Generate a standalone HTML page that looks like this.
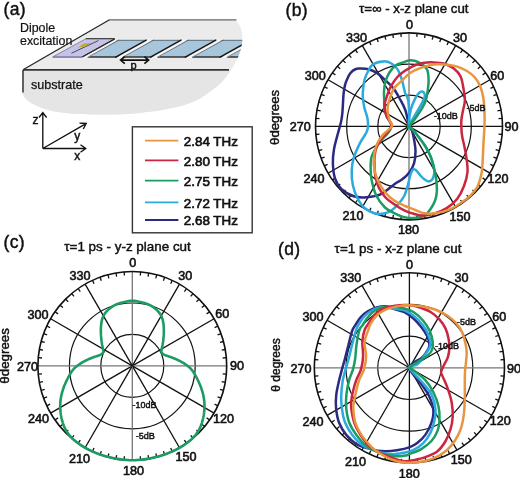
<!DOCTYPE html>
<html><head><meta charset="utf-8"><style>
html,body{margin:0;padding:0;background:#fff;}
svg{display:block;font-family:"Liberation Sans", sans-serif;will-change:transform;}
text{stroke:#111;stroke-width:0.45px;}
</style></head><body>
<svg width="520" height="478" viewBox="0 0 520 478" font-family='&quot;Liberation Sans&quot;, sans-serif' fill="#111">
<path d="M110,20 L235.8,20.0 C236.5,21.1 239.0,24.2 240.0,26.3 C241.0,28.4 241.6,30.2 242.0,32.6 C242.4,35.0 242.5,37.8 242.2,40.9 C241.9,44.0 241.3,47.9 240.2,51.4 C239.1,54.9 237.6,58.3 235.8,61.8 C234.0,65.3 231.9,68.8 229.5,72.3 C227.1,75.8 224.2,79.7 221.1,82.8 C218.0,85.9 214.5,88.3 210.7,91.1 C206.9,93.9 203.0,97.0 198.1,99.5 C193.2,102.0 187.3,104.0 181.4,105.8 C175.5,107.5 168.0,109.0 162.6,110.0 C157.2,111.0 155.0,111.1 149.2,111.8 C143.4,112.5 135.8,113.5 127.7,113.9 C119.6,114.4 109.8,114.5 100.8,114.5 C91.8,114.5 81.9,114.3 73.8,113.7 C65.7,113.1 58.6,112.3 52.3,111.0 C46.0,109.7 40.6,107.6 36.2,105.6 C31.8,103.6 28.3,101.1 26.0,99.0 C23.7,96.9 23.1,94.0 22.5,93.0 L22.5,70 Z" fill="#ebebeb"/>
<path d="M22.5,70 L230.5,70 L229.5,72.3 C228.1,74.0 224.2,79.7 221.1,82.8 C218.0,85.9 214.5,88.3 210.7,91.1 C206.9,93.9 203.0,97.0 198.1,99.5 C193.2,102.0 187.3,104.0 181.4,105.8 C175.5,107.5 168.0,109.0 162.6,110.0 C157.2,111.0 155.0,111.1 149.2,111.8 C143.4,112.5 135.8,113.5 127.7,113.9 C119.6,114.4 109.8,114.5 100.8,114.5 C91.8,114.5 81.9,114.3 73.8,113.7 C65.7,113.1 58.6,112.3 52.3,111.0 C46.0,109.7 40.6,107.6 36.2,105.6 C31.8,103.6 28.3,101.1 26.0,99.0 C23.7,96.9 23.1,94.0 22.5,93.0 Z" fill="#e5e5e6"/>
<path d="M109.3,19.8 L236.5,19.8" stroke="#666" stroke-width="1.3" fill="none"/>
<path d="M109.5,19.8 L23,69.8" stroke="#262626" stroke-width="1.3" fill="none"/>
<path d="M23,69.8 L229,69.8" stroke="#333" stroke-width="1.7" fill="none"/>
<path d="M23,70 L23,92.5" stroke="#333" stroke-width="1.5" fill="none"/>
<clipPath id="gclip"><path d="M110,20 L235.8,20.0 C236.5,21.1 239.0,24.2 240.0,26.3 C241.0,28.4 241.6,30.2 242.0,32.6 C242.4,35.0 242.5,37.8 242.2,40.9 C241.9,44.0 241.3,47.9 240.2,51.4 C239.1,54.9 237.6,58.3 235.8,61.8 C234.0,65.3 231.9,68.8 229.5,72.3 C227.1,75.8 224.2,79.7 221.1,82.8 C218.0,85.9 214.5,88.3 210.7,91.1 C206.9,93.9 203.0,97.0 198.1,99.5 C193.2,102.0 187.3,104.0 181.4,105.8 C175.5,107.5 168.0,109.0 162.6,110.0 C157.2,111.0 155.0,111.1 149.2,111.8 C143.4,112.5 135.8,113.5 127.7,113.9 C119.6,114.4 109.8,114.5 100.8,114.5 C91.8,114.5 81.9,114.3 73.8,113.7 C65.7,113.1 58.6,112.3 52.3,111.0 C46.0,109.7 40.6,107.6 36.2,105.6 C31.8,103.6 28.3,101.1 26.0,99.0 C23.7,96.9 23.1,94.0 22.5,93.0 L22.5,70 Z"/></clipPath>
<g clip-path="url(#gclip)">
<path d="M116,40 L250,40 L250,57 L84,57 Z" fill="#a8c6db"/>
<path d="M116,40.3 L250,40.3" stroke="#5d6d7a" stroke-width="1"/>
<path d="M86,57 L250,57" stroke="#333" stroke-width="1.5"/>
<path d="M112.7,39.3 L118.7,39.3 L87.2,58 L81.2,58 Z" fill="#f7f7f7"/>
<path d="M111.9,39.8 L80.4,57.4" stroke="#161616" stroke-width="1.5"/>
<path d="M119.1,40 L87.6,57.3" stroke="#55606a" stroke-width="0.8"/>
<path d="M147.5,39.3 L153.5,39.3 L122.0,58 L116.0,58 Z" fill="#f7f7f7"/>
<path d="M146.7,39.8 L115.2,57.4" stroke="#161616" stroke-width="1.5"/>
<path d="M153.9,40 L122.4,57.3" stroke="#55606a" stroke-width="0.8"/>
<path d="M182.3,39.3 L188.3,39.3 L156.8,58 L150.8,58 Z" fill="#f7f7f7"/>
<path d="M181.5,39.8 L150.0,57.4" stroke="#161616" stroke-width="1.5"/>
<path d="M188.7,40 L157.2,57.3" stroke="#55606a" stroke-width="0.8"/>
<path d="M217.1,39.3 L223.1,39.3 L191.6,58 L185.6,58 Z" fill="#f7f7f7"/>
<path d="M216.3,39.8 L184.8,57.4" stroke="#161616" stroke-width="1.5"/>
<path d="M223.5,40 L192.0,57.3" stroke="#55606a" stroke-width="0.8"/>
<path d="M251.9,39.3 L257.9,39.3 L226.4,58 L220.4,58 Z" fill="#f7f7f7"/>
<path d="M251.1,39.8 L219.6,57.4" stroke="#161616" stroke-width="1.5"/>
<path d="M258.3,40 L226.8,57.3" stroke="#55606a" stroke-width="0.8"/>
<path d="M286.7,39.3 L292.7,39.3 L261.2,58 L255.2,58 Z" fill="#f7f7f7"/>
<path d="M285.9,39.8 L254.4,57.4" stroke="#161616" stroke-width="1.5"/>
<path d="M293.1,40 L261.6,57.3" stroke="#55606a" stroke-width="0.8"/>
</g>
<path d="M85.7,38.7 L114.6,38.7 L82.5,56.2 L52.7,56.2 Z" fill="#c6c3e8"/>
<path d="M52.7,56 L82.6,56 L82,58 L52.7,58 Z" fill="#8e8cb6"/>
<path d="M85.7,38.7 L114.6,38.7" stroke="#2a2a2a" stroke-width="1.1" fill="none"/>
<path d="M114.8,38.9 L82.3,57" stroke="#2a2a2a" stroke-width="1.4" fill="none"/>
<path d="M85.7,38.9 L52.7,57" stroke="#77779a" stroke-width="0.8" fill="none"/>
<path d="M71.5,53.2 L98.5,40.5" stroke="#4a4a55" stroke-width="1" fill="none"/>
<path d="M77.5,47.8 L83,43.8 L91,42.5 L86,46.3 Z" fill="#c2ac2e"/>
<path d="M120.5,60.1 L148.7,60.1 M124.8,56.6 L120.6,60.1 L124.8,63.6 M144.4,56.6 L148.6,60.1 L144.4,63.6" stroke="#111" stroke-width="1.7" fill="none"/>
<text x="133.5" y="68.5" text-anchor="middle" font-size="11">p</text>
<text x="3.6" y="15.2" font-size="17.5" letter-spacing="0.3">(a)</text>
<text x="20" y="32.4" font-size="12.4" style="stroke-width:0.2px">Dipole</text>
<text x="20" y="44.6" font-size="12.4" style="stroke-width:0.2px">excitation</text>
<text x="31" y="88.5" font-size="12.6" style="stroke-width:0.25px">substrate</text>
<path d="M42.8,148.5 L42.8,113 M39,117.5 L42.8,112.5 L46.6,117.5 M42.8,148.5 L85.4,148.5 M80.5,144.7 L85.8,148.5 L80.5,152.3 M42.8,148.5 L86,123.7 M79.5,123.2 L86.2,123.5 L83.3,129" stroke="#111" stroke-width="1.35" fill="none"/>
<text x="32.5" y="124" font-size="12">z</text>
<text x="74.3" y="140" font-size="12">y</text>
<text x="74.3" y="159.5" font-size="12">x</text>
<rect x="132.4" y="126.8" width="119.8" height="106" fill="#fff" stroke="#333" stroke-width="1.4"/>
<line x1="145" y1="140.7" x2="178.4" y2="140.7" stroke="#e9953f" stroke-width="1.8"/>
<text x="183.8" y="146.0" font-size="13.4" style="stroke-width:0.65px">2.84 THz</text>
<line x1="145" y1="160.3" x2="178.4" y2="160.3" stroke="#cc2540" stroke-width="1.8"/>
<text x="183.8" y="165.6" font-size="13.4" style="stroke-width:0.65px">2.80 THz</text>
<line x1="145" y1="180.7" x2="178.4" y2="180.7" stroke="#1b9c62" stroke-width="1.8"/>
<text x="183.8" y="186.0" font-size="13.4" style="stroke-width:0.65px">2.75 THz</text>
<line x1="145" y1="202.4" x2="178.4" y2="202.4" stroke="#2aaade" stroke-width="1.8"/>
<text x="183.8" y="207.7" font-size="13.4" style="stroke-width:0.65px">2.72 THz</text>
<line x1="145" y1="220.0" x2="178.4" y2="220.0" stroke="#2c2a80" stroke-width="1.8"/>
<text x="183.8" y="225.3" font-size="13.4" style="stroke-width:0.65px">2.68 THz</text>
<circle cx="409.0" cy="126.4" r="31.2" fill="none" stroke="#111" stroke-width="1.2"/>
<circle cx="409.0" cy="126.4" r="62.3" fill="none" stroke="#111" stroke-width="1.2"/>
<line x1="409.0" y1="126.4" x2="409.0" y2="32.9" stroke="#777" stroke-width="1.3"/>
<line x1="409.0" y1="126.4" x2="455.8" y2="45.4" stroke="#111" stroke-width="1.3"/>
<line x1="409.0" y1="126.4" x2="490.0" y2="79.7" stroke="#111" stroke-width="1.3"/>
<line x1="409.0" y1="126.4" x2="502.5" y2="126.4" stroke="#111" stroke-width="1.3"/>
<line x1="409.0" y1="126.4" x2="490.0" y2="173.1" stroke="#111" stroke-width="1.3"/>
<line x1="409.0" y1="126.4" x2="455.8" y2="207.4" stroke="#111" stroke-width="1.3"/>
<line x1="409.0" y1="126.4" x2="409.0" y2="219.9" stroke="#777" stroke-width="1.3"/>
<line x1="409.0" y1="126.4" x2="362.2" y2="207.4" stroke="#111" stroke-width="1.3"/>
<line x1="409.0" y1="126.4" x2="328.0" y2="173.2" stroke="#111" stroke-width="1.3"/>
<line x1="409.0" y1="126.4" x2="315.5" y2="126.4" stroke="#111" stroke-width="1.3"/>
<line x1="409.0" y1="126.4" x2="328.0" y2="79.7" stroke="#111" stroke-width="1.3"/>
<line x1="409.0" y1="126.4" x2="362.2" y2="45.4" stroke="#111" stroke-width="1.3"/>
<line x1="417.1" y1="33.3" x2="416.8" y2="36.9" stroke="#111" stroke-width="1.3"/>
<line x1="425.2" y1="34.3" x2="424.6" y2="38.0" stroke="#111" stroke-width="1.3"/>
<line x1="433.2" y1="36.1" x2="432.2" y2="39.7" stroke="#111" stroke-width="1.3"/>
<line x1="441.0" y1="38.5" x2="439.7" y2="42.0" stroke="#111" stroke-width="1.3"/>
<line x1="448.5" y1="41.7" x2="447.0" y2="45.0" stroke="#111" stroke-width="1.3"/>
<line x1="462.6" y1="49.8" x2="460.5" y2="52.8" stroke="#111" stroke-width="1.3"/>
<line x1="469.1" y1="54.8" x2="466.7" y2="57.6" stroke="#111" stroke-width="1.3"/>
<line x1="475.1" y1="60.3" x2="472.5" y2="62.9" stroke="#111" stroke-width="1.3"/>
<line x1="480.6" y1="66.3" x2="477.8" y2="68.7" stroke="#111" stroke-width="1.3"/>
<line x1="485.6" y1="72.8" x2="482.6" y2="74.9" stroke="#111" stroke-width="1.3"/>
<line x1="493.7" y1="86.9" x2="490.4" y2="88.4" stroke="#111" stroke-width="1.3"/>
<line x1="496.9" y1="94.4" x2="493.4" y2="95.7" stroke="#111" stroke-width="1.3"/>
<line x1="499.3" y1="102.2" x2="495.7" y2="103.2" stroke="#111" stroke-width="1.3"/>
<line x1="501.1" y1="110.2" x2="497.4" y2="110.8" stroke="#111" stroke-width="1.3"/>
<line x1="502.1" y1="118.3" x2="498.5" y2="118.6" stroke="#111" stroke-width="1.3"/>
<line x1="502.1" y1="134.5" x2="498.5" y2="134.2" stroke="#111" stroke-width="1.3"/>
<line x1="501.1" y1="142.6" x2="497.4" y2="142.0" stroke="#111" stroke-width="1.3"/>
<line x1="499.3" y1="150.6" x2="495.7" y2="149.6" stroke="#111" stroke-width="1.3"/>
<line x1="496.9" y1="158.4" x2="493.4" y2="157.1" stroke="#111" stroke-width="1.3"/>
<line x1="493.7" y1="165.9" x2="490.4" y2="164.4" stroke="#111" stroke-width="1.3"/>
<line x1="485.6" y1="180.0" x2="482.6" y2="177.9" stroke="#111" stroke-width="1.3"/>
<line x1="480.6" y1="186.5" x2="477.8" y2="184.1" stroke="#111" stroke-width="1.3"/>
<line x1="475.1" y1="192.5" x2="472.5" y2="189.9" stroke="#111" stroke-width="1.3"/>
<line x1="469.1" y1="198.0" x2="466.7" y2="195.2" stroke="#111" stroke-width="1.3"/>
<line x1="462.6" y1="203.0" x2="460.5" y2="200.0" stroke="#111" stroke-width="1.3"/>
<line x1="448.5" y1="211.1" x2="447.0" y2="207.8" stroke="#111" stroke-width="1.3"/>
<line x1="441.0" y1="214.3" x2="439.7" y2="210.8" stroke="#111" stroke-width="1.3"/>
<line x1="433.2" y1="216.7" x2="432.2" y2="213.1" stroke="#111" stroke-width="1.3"/>
<line x1="425.2" y1="218.5" x2="424.6" y2="214.8" stroke="#111" stroke-width="1.3"/>
<line x1="417.1" y1="219.5" x2="416.8" y2="215.9" stroke="#111" stroke-width="1.3"/>
<line x1="400.9" y1="219.5" x2="401.2" y2="215.9" stroke="#111" stroke-width="1.3"/>
<line x1="392.8" y1="218.5" x2="393.4" y2="214.8" stroke="#111" stroke-width="1.3"/>
<line x1="384.8" y1="216.7" x2="385.8" y2="213.1" stroke="#111" stroke-width="1.3"/>
<line x1="377.0" y1="214.3" x2="378.3" y2="210.8" stroke="#111" stroke-width="1.3"/>
<line x1="369.5" y1="211.1" x2="371.0" y2="207.8" stroke="#111" stroke-width="1.3"/>
<line x1="355.4" y1="203.0" x2="357.5" y2="200.0" stroke="#111" stroke-width="1.3"/>
<line x1="348.9" y1="198.0" x2="351.3" y2="195.2" stroke="#111" stroke-width="1.3"/>
<line x1="342.9" y1="192.5" x2="345.5" y2="189.9" stroke="#111" stroke-width="1.3"/>
<line x1="337.4" y1="186.5" x2="340.2" y2="184.1" stroke="#111" stroke-width="1.3"/>
<line x1="332.4" y1="180.0" x2="335.4" y2="177.9" stroke="#111" stroke-width="1.3"/>
<line x1="324.3" y1="165.9" x2="327.6" y2="164.4" stroke="#111" stroke-width="1.3"/>
<line x1="321.1" y1="158.4" x2="324.6" y2="157.1" stroke="#111" stroke-width="1.3"/>
<line x1="318.7" y1="150.6" x2="322.3" y2="149.6" stroke="#111" stroke-width="1.3"/>
<line x1="316.9" y1="142.6" x2="320.6" y2="142.0" stroke="#111" stroke-width="1.3"/>
<line x1="315.9" y1="134.5" x2="319.5" y2="134.2" stroke="#111" stroke-width="1.3"/>
<line x1="315.9" y1="118.3" x2="319.5" y2="118.6" stroke="#111" stroke-width="1.3"/>
<line x1="316.9" y1="110.2" x2="320.6" y2="110.8" stroke="#111" stroke-width="1.3"/>
<line x1="318.7" y1="102.2" x2="322.3" y2="103.2" stroke="#111" stroke-width="1.3"/>
<line x1="321.1" y1="94.4" x2="324.6" y2="95.7" stroke="#111" stroke-width="1.3"/>
<line x1="324.3" y1="86.9" x2="327.6" y2="88.4" stroke="#111" stroke-width="1.3"/>
<line x1="332.4" y1="72.8" x2="335.4" y2="74.9" stroke="#111" stroke-width="1.3"/>
<line x1="337.4" y1="66.3" x2="340.2" y2="68.7" stroke="#111" stroke-width="1.3"/>
<line x1="342.9" y1="60.3" x2="345.5" y2="62.9" stroke="#111" stroke-width="1.3"/>
<line x1="348.9" y1="54.8" x2="351.3" y2="57.6" stroke="#111" stroke-width="1.3"/>
<line x1="355.4" y1="49.8" x2="357.5" y2="52.8" stroke="#111" stroke-width="1.3"/>
<line x1="369.5" y1="41.7" x2="371.0" y2="45.0" stroke="#111" stroke-width="1.3"/>
<line x1="377.0" y1="38.5" x2="378.3" y2="42.0" stroke="#111" stroke-width="1.3"/>
<line x1="384.8" y1="36.1" x2="385.8" y2="39.7" stroke="#111" stroke-width="1.3"/>
<line x1="392.8" y1="34.3" x2="393.4" y2="38.0" stroke="#111" stroke-width="1.3"/>
<line x1="400.9" y1="33.3" x2="401.2" y2="36.9" stroke="#111" stroke-width="1.3"/>
<circle cx="409.0" cy="126.4" r="93.5" fill="none" stroke="#111" stroke-width="1.6"/>
<text x="409.6" y="29.1" text-anchor="middle" font-size="12.6" style="stroke-width:0.6px">0</text>
<text x="460.0" y="42.3" text-anchor="middle" font-size="12.6" style="stroke-width:0.6px">30</text>
<text x="497.3" y="80.1" text-anchor="middle" font-size="12.6" style="stroke-width:0.6px">60</text>
<text x="511.6" y="131.4" text-anchor="middle" font-size="12.6" style="stroke-width:0.6px">90</text>
<text x="498.1" y="182.8" text-anchor="middle" font-size="12.6" style="stroke-width:0.6px">120</text>
<text x="460.1" y="220.6" text-anchor="middle" font-size="12.6" style="stroke-width:0.6px">150</text>
<text x="408.5" y="234.2" text-anchor="middle" font-size="12.6" style="stroke-width:0.6px">180</text>
<text x="352.9" y="220.3" text-anchor="middle" font-size="12.6" style="stroke-width:0.6px">210</text>
<text x="314.0" y="183.0" text-anchor="middle" font-size="12.6" style="stroke-width:0.6px">240</text>
<text x="300.2" y="131.0" text-anchor="middle" font-size="12.6" style="stroke-width:0.6px">270</text>
<text x="315.2" y="79.7" text-anchor="middle" font-size="12.6" style="stroke-width:0.6px">300</text>
<text x="356.6" y="42.1" text-anchor="middle" font-size="12.6" style="stroke-width:0.6px">330</text>
<text x="285.5" y="16" font-size="17.5" letter-spacing="0.3">(b)</text>
<text x="359" y="13.4" font-size="13.3" textLength="109.5" lengthAdjust="spacingAndGlyphs">τ=∞ - x-z plane cut</text>
<text x="278.9" y="117.4" font-size="12.8" text-anchor="middle" textLength="55" lengthAdjust="spacingAndGlyphs" transform="rotate(-90 278.9 117.4)">θdegrees</text>
<circle cx="132.3" cy="365.9" r="31.5" fill="none" stroke="#111" stroke-width="1.2"/>
<circle cx="132.3" cy="365.9" r="62.9" fill="none" stroke="#111" stroke-width="1.2"/>
<line x1="132.3" y1="365.9" x2="132.3" y2="271.5" stroke="#777" stroke-width="1.3"/>
<line x1="132.3" y1="365.9" x2="179.5" y2="284.1" stroke="#111" stroke-width="1.3"/>
<line x1="132.3" y1="365.9" x2="214.1" y2="318.7" stroke="#111" stroke-width="1.3"/>
<line x1="132.3" y1="365.9" x2="226.8" y2="365.9" stroke="#777" stroke-width="1.3"/>
<line x1="132.3" y1="365.9" x2="214.1" y2="413.1" stroke="#111" stroke-width="1.3"/>
<line x1="132.3" y1="365.9" x2="179.5" y2="447.7" stroke="#111" stroke-width="1.3"/>
<line x1="132.3" y1="365.9" x2="132.3" y2="460.3" stroke="#777" stroke-width="1.3"/>
<line x1="132.3" y1="365.9" x2="85.1" y2="447.7" stroke="#111" stroke-width="1.3"/>
<line x1="132.3" y1="365.9" x2="50.6" y2="413.1" stroke="#111" stroke-width="1.3"/>
<line x1="132.3" y1="365.9" x2="37.9" y2="365.9" stroke="#777" stroke-width="1.3"/>
<line x1="132.3" y1="365.9" x2="50.6" y2="318.7" stroke="#111" stroke-width="1.3"/>
<line x1="132.3" y1="365.9" x2="85.1" y2="284.1" stroke="#111" stroke-width="1.3"/>
<line x1="140.6" y1="271.9" x2="140.3" y2="275.5" stroke="#111" stroke-width="1.3"/>
<line x1="148.7" y1="272.9" x2="148.1" y2="276.6" stroke="#111" stroke-width="1.3"/>
<line x1="156.8" y1="274.7" x2="155.8" y2="278.3" stroke="#111" stroke-width="1.3"/>
<line x1="164.6" y1="277.2" x2="163.4" y2="280.7" stroke="#111" stroke-width="1.3"/>
<line x1="172.2" y1="280.3" x2="170.7" y2="283.7" stroke="#111" stroke-width="1.3"/>
<line x1="186.5" y1="288.6" x2="184.4" y2="291.6" stroke="#111" stroke-width="1.3"/>
<line x1="193.0" y1="293.6" x2="190.7" y2="296.4" stroke="#111" stroke-width="1.3"/>
<line x1="199.1" y1="299.1" x2="196.5" y2="301.8" stroke="#111" stroke-width="1.3"/>
<line x1="204.7" y1="305.2" x2="201.8" y2="307.6" stroke="#111" stroke-width="1.3"/>
<line x1="209.7" y1="311.8" x2="206.6" y2="313.9" stroke="#111" stroke-width="1.3"/>
<line x1="217.9" y1="326.0" x2="214.6" y2="327.6" stroke="#111" stroke-width="1.3"/>
<line x1="221.1" y1="333.6" x2="217.6" y2="334.9" stroke="#111" stroke-width="1.3"/>
<line x1="223.5" y1="341.5" x2="220.0" y2="342.4" stroke="#111" stroke-width="1.3"/>
<line x1="225.3" y1="349.5" x2="221.7" y2="350.2" stroke="#111" stroke-width="1.3"/>
<line x1="226.4" y1="357.7" x2="222.7" y2="358.0" stroke="#111" stroke-width="1.3"/>
<line x1="226.4" y1="374.1" x2="222.7" y2="373.8" stroke="#111" stroke-width="1.3"/>
<line x1="225.3" y1="382.3" x2="221.7" y2="381.6" stroke="#111" stroke-width="1.3"/>
<line x1="223.5" y1="390.3" x2="220.0" y2="389.4" stroke="#111" stroke-width="1.3"/>
<line x1="221.1" y1="398.2" x2="217.6" y2="396.9" stroke="#111" stroke-width="1.3"/>
<line x1="217.9" y1="405.8" x2="214.6" y2="404.2" stroke="#111" stroke-width="1.3"/>
<line x1="209.7" y1="420.0" x2="206.6" y2="417.9" stroke="#111" stroke-width="1.3"/>
<line x1="204.7" y1="426.6" x2="201.8" y2="424.2" stroke="#111" stroke-width="1.3"/>
<line x1="199.1" y1="432.7" x2="196.5" y2="430.0" stroke="#111" stroke-width="1.3"/>
<line x1="193.0" y1="438.2" x2="190.7" y2="435.4" stroke="#111" stroke-width="1.3"/>
<line x1="186.5" y1="443.2" x2="184.4" y2="440.2" stroke="#111" stroke-width="1.3"/>
<line x1="172.2" y1="451.5" x2="170.7" y2="448.1" stroke="#111" stroke-width="1.3"/>
<line x1="164.6" y1="454.6" x2="163.4" y2="451.1" stroke="#111" stroke-width="1.3"/>
<line x1="156.8" y1="457.1" x2="155.8" y2="453.5" stroke="#111" stroke-width="1.3"/>
<line x1="148.7" y1="458.9" x2="148.1" y2="455.2" stroke="#111" stroke-width="1.3"/>
<line x1="140.6" y1="459.9" x2="140.3" y2="456.3" stroke="#111" stroke-width="1.3"/>
<line x1="124.1" y1="459.9" x2="124.4" y2="456.3" stroke="#111" stroke-width="1.3"/>
<line x1="116.0" y1="458.9" x2="116.6" y2="455.2" stroke="#111" stroke-width="1.3"/>
<line x1="107.9" y1="457.1" x2="108.9" y2="453.5" stroke="#111" stroke-width="1.3"/>
<line x1="100.1" y1="454.6" x2="101.3" y2="451.1" stroke="#111" stroke-width="1.3"/>
<line x1="92.5" y1="451.5" x2="94.0" y2="448.1" stroke="#111" stroke-width="1.3"/>
<line x1="78.2" y1="443.2" x2="80.3" y2="440.2" stroke="#111" stroke-width="1.3"/>
<line x1="71.7" y1="438.2" x2="74.0" y2="435.4" stroke="#111" stroke-width="1.3"/>
<line x1="65.6" y1="432.7" x2="68.2" y2="430.0" stroke="#111" stroke-width="1.3"/>
<line x1="60.0" y1="426.6" x2="62.9" y2="424.2" stroke="#111" stroke-width="1.3"/>
<line x1="55.0" y1="420.0" x2="58.1" y2="417.9" stroke="#111" stroke-width="1.3"/>
<line x1="46.8" y1="405.8" x2="50.1" y2="404.2" stroke="#111" stroke-width="1.3"/>
<line x1="43.6" y1="398.2" x2="47.1" y2="396.9" stroke="#111" stroke-width="1.3"/>
<line x1="41.2" y1="390.3" x2="44.7" y2="389.4" stroke="#111" stroke-width="1.3"/>
<line x1="39.4" y1="382.3" x2="43.0" y2="381.6" stroke="#111" stroke-width="1.3"/>
<line x1="38.3" y1="374.1" x2="42.0" y2="373.8" stroke="#111" stroke-width="1.3"/>
<line x1="38.3" y1="357.7" x2="42.0" y2="358.0" stroke="#111" stroke-width="1.3"/>
<line x1="39.4" y1="349.5" x2="43.0" y2="350.2" stroke="#111" stroke-width="1.3"/>
<line x1="41.2" y1="341.5" x2="44.7" y2="342.4" stroke="#111" stroke-width="1.3"/>
<line x1="43.6" y1="333.6" x2="47.1" y2="334.9" stroke="#111" stroke-width="1.3"/>
<line x1="46.8" y1="326.0" x2="50.1" y2="327.6" stroke="#111" stroke-width="1.3"/>
<line x1="55.0" y1="311.8" x2="58.1" y2="313.9" stroke="#111" stroke-width="1.3"/>
<line x1="60.0" y1="305.2" x2="62.9" y2="307.6" stroke="#111" stroke-width="1.3"/>
<line x1="65.6" y1="299.1" x2="68.2" y2="301.8" stroke="#111" stroke-width="1.3"/>
<line x1="71.7" y1="293.6" x2="74.0" y2="296.4" stroke="#111" stroke-width="1.3"/>
<line x1="78.2" y1="288.6" x2="80.3" y2="291.6" stroke="#111" stroke-width="1.3"/>
<line x1="92.5" y1="280.3" x2="94.0" y2="283.7" stroke="#111" stroke-width="1.3"/>
<line x1="100.1" y1="277.2" x2="101.3" y2="280.7" stroke="#111" stroke-width="1.3"/>
<line x1="107.9" y1="274.7" x2="108.9" y2="278.3" stroke="#111" stroke-width="1.3"/>
<line x1="116.0" y1="272.9" x2="116.6" y2="276.6" stroke="#111" stroke-width="1.3"/>
<line x1="124.1" y1="271.9" x2="124.4" y2="275.5" stroke="#111" stroke-width="1.3"/>
<circle cx="132.3" cy="365.9" r="94.4" fill="none" stroke="#111" stroke-width="1.6"/>
<text x="132.7" y="266.9" text-anchor="middle" font-size="12.6" style="stroke-width:0.6px">0</text>
<text x="185.2" y="280.4" text-anchor="middle" font-size="12.6" style="stroke-width:0.6px">30</text>
<text x="222.3" y="318.3" text-anchor="middle" font-size="12.6" style="stroke-width:0.6px">60</text>
<text x="237.0" y="370.3" text-anchor="middle" font-size="12.6" style="stroke-width:0.6px">90</text>
<text x="223.5" y="422.7" text-anchor="middle" font-size="12.6" style="stroke-width:0.6px">120</text>
<text x="185.9" y="460.7" text-anchor="middle" font-size="12.6" style="stroke-width:0.6px">150</text>
<text x="133.4" y="474.6" text-anchor="middle" font-size="12.6" style="stroke-width:0.6px">180</text>
<text x="79.5" y="462.9" text-anchor="middle" font-size="12.6" style="stroke-width:0.6px">210</text>
<text x="38.4" y="423.3" text-anchor="middle" font-size="12.6" style="stroke-width:0.6px">240</text>
<text x="27.5" y="371.0" text-anchor="middle" font-size="12.6" style="stroke-width:0.6px">270</text>
<text x="38.1" y="318.8" text-anchor="middle" font-size="12.6" style="stroke-width:0.6px">300</text>
<text x="79.9" y="280.4" text-anchor="middle" font-size="12.6" style="stroke-width:0.6px">330</text>
<text x="3.6" y="248.3" font-size="17.5" letter-spacing="0.3">(c)</text>
<text x="64.3" y="251.2" font-size="13.4" textLength="126.5" lengthAdjust="spacingAndGlyphs">τ=1 ps - y-z plane cut</text>
<text x="8.6" y="355.9" font-size="12.8" text-anchor="middle" textLength="55.5" lengthAdjust="spacingAndGlyphs" transform="rotate(-90 8.6 355.9)">θdegrees</text>
<path d="M132.35,300.70 L133.49,300.74 L134.62,300.86 L135.75,301.04 L136.87,301.26 L137.98,301.50 L139.09,301.75 L140.20,302.00 L141.30,302.25 L142.39,302.51 L143.48,302.78 L144.56,303.07 L145.64,303.38 L146.70,303.73 L147.75,304.13 L148.79,304.56 L149.80,305.05 L150.79,305.59 L151.76,306.18 L152.70,306.80 L153.62,307.46 L154.52,308.15 L155.39,308.87 L156.25,309.61 L157.07,310.37 L157.87,311.17 L158.64,312.00 L159.36,312.89 L160.04,313.82 L160.66,314.82 L161.23,315.88 L161.73,317.01 L162.17,318.18 L162.55,319.39 L162.88,320.64 L163.15,321.91 L163.37,323.20 L163.54,324.51 L163.67,325.81 L163.76,327.11 L163.81,328.40 L163.84,329.67 L163.85,330.92 L163.83,332.14 L163.80,333.34 L163.74,334.51 L163.68,335.65 L163.59,336.77 L163.50,337.85 L163.39,338.92 L163.28,339.95 L163.15,340.96 L163.02,341.94 L162.87,342.90 L162.72,343.83 L162.57,344.74 L162.40,345.63 L162.23,346.50 L162.05,347.34 L161.87,348.16 L161.70,348.96 L161.56,349.71 L161.46,350.42 L161.43,351.08 L161.47,351.70 L161.61,352.26 L161.84,352.77 L162.18,353.24 L162.61,353.67 L163.14,354.08 L163.77,354.46 L164.50,354.83 L165.32,355.19 L166.24,355.54 L167.23,355.90 L168.30,356.27 L169.43,356.65 L170.61,357.07 L171.83,357.51 L173.09,357.98 L174.36,358.49 L175.66,359.04 L176.97,359.63 L178.29,360.26 L179.63,360.93 L180.98,361.65 L182.34,362.40 L183.70,363.21 L185.05,364.06 L186.37,364.96 L187.65,365.90 L188.86,366.89 L189.99,367.91 L191.01,368.97 L191.93,370.07 L192.77,371.19 L193.54,372.33 L194.27,373.50 L194.97,374.70 L195.65,375.93 L196.33,377.18 L197.00,378.47 L197.67,379.78 L198.32,381.13 L198.96,382.51 L199.59,383.92 L200.18,385.35 L200.76,386.81 L201.30,388.30 L201.81,389.82 L202.29,391.35 L202.72,392.91 L203.12,394.49 L203.47,396.09 L203.77,397.70 L204.02,399.32 L204.22,400.95 L204.37,402.60 L204.46,404.24 L204.50,405.89 L204.48,407.54 L204.41,409.20 L204.28,410.85 L204.11,412.50 L203.89,414.15 L203.62,415.80 L203.30,417.45 L202.94,419.09 L202.53,420.73 L202.06,422.35 L201.54,423.96 L200.96,425.54 L200.31,427.09 L199.60,428.61 L198.82,430.09 L197.96,431.51 L197.05,432.89 L196.07,434.23 L195.03,435.51 L193.94,436.75 L192.80,437.95 L191.63,439.10 L190.41,440.21 L189.15,441.28 L187.87,442.31 L186.55,443.31 L185.21,444.27 L183.84,445.19 L182.45,446.08 L181.04,446.93 L179.61,447.76 L178.16,448.55 L176.70,449.32 L175.23,450.06 L173.74,450.77 L172.24,451.45 L170.73,452.10 L169.21,452.73 L167.68,453.34 L166.13,453.91 L164.58,454.46 L163.03,454.99 L161.46,455.49 L159.89,455.97 L158.31,456.42 L156.72,456.85 L155.13,457.25 L153.53,457.63 L151.92,457.98 L150.31,458.31 L148.70,458.62 L147.08,458.90 L145.46,459.15 L143.83,459.38 L142.20,459.58 L140.56,459.76 L138.92,459.91 L137.28,460.04 L135.64,460.13 L134.00,460.18 L132.35,460.20 L130.70,460.18 L129.06,460.13 L127.42,460.04 L125.78,459.91 L124.14,459.76 L122.50,459.58 L120.87,459.38 L119.24,459.15 L117.62,458.90 L116.00,458.62 L114.39,458.31 L112.78,457.98 L111.17,457.63 L109.57,457.25 L107.98,456.85 L106.39,456.42 L104.81,455.97 L103.24,455.49 L101.67,454.99 L100.12,454.46 L98.57,453.91 L97.02,453.34 L95.49,452.73 L93.97,452.10 L92.46,451.45 L90.96,450.77 L89.47,450.06 L88.00,449.32 L86.54,448.55 L85.09,447.76 L83.66,446.93 L82.25,446.08 L80.86,445.19 L79.49,444.27 L78.15,443.31 L76.83,442.31 L75.55,441.28 L74.29,440.21 L73.07,439.10 L71.90,437.95 L70.76,436.75 L69.67,435.51 L68.63,434.23 L67.65,432.89 L66.74,431.51 L65.88,430.09 L65.10,428.61 L64.39,427.09 L63.74,425.54 L63.16,423.96 L62.64,422.35 L62.17,420.73 L61.76,419.09 L61.40,417.45 L61.08,415.80 L60.81,414.15 L60.59,412.50 L60.42,410.85 L60.29,409.20 L60.22,407.54 L60.20,405.89 L60.24,404.24 L60.33,402.60 L60.48,400.95 L60.68,399.32 L60.93,397.70 L61.23,396.09 L61.58,394.49 L61.98,392.91 L62.41,391.35 L62.89,389.82 L63.40,388.30 L63.94,386.81 L64.52,385.35 L65.11,383.92 L65.74,382.51 L66.38,381.13 L67.03,379.78 L67.70,378.47 L68.37,377.18 L69.05,375.93 L69.73,374.70 L70.43,373.50 L71.16,372.33 L71.93,371.19 L72.77,370.07 L73.69,368.97 L74.71,367.91 L75.84,366.89 L77.05,365.90 L78.33,364.96 L79.65,364.06 L81.00,363.21 L82.36,362.40 L83.72,361.65 L85.07,360.93 L86.41,360.26 L87.73,359.63 L89.04,359.04 L90.34,358.49 L91.61,357.98 L92.87,357.51 L94.09,357.07 L95.27,356.65 L96.40,356.27 L97.47,355.90 L98.46,355.54 L99.38,355.19 L100.20,354.83 L100.93,354.46 L101.56,354.08 L102.09,353.67 L102.52,353.24 L102.86,352.77 L103.09,352.26 L103.23,351.70 L103.27,351.08 L103.24,350.42 L103.14,349.71 L103.00,348.96 L102.83,348.16 L102.65,347.34 L102.47,346.50 L102.30,345.63 L102.13,344.74 L101.98,343.83 L101.83,342.90 L101.68,341.94 L101.55,340.96 L101.42,339.95 L101.31,338.92 L101.20,337.85 L101.11,336.77 L101.02,335.65 L100.96,334.51 L100.90,333.34 L100.87,332.14 L100.85,330.92 L100.86,329.67 L100.89,328.40 L100.94,327.11 L101.03,325.81 L101.16,324.51 L101.33,323.20 L101.55,321.91 L101.82,320.64 L102.15,319.39 L102.53,318.18 L102.97,317.01 L103.47,315.88 L104.04,314.82 L104.66,313.82 L105.34,312.89 L106.06,312.00 L106.83,311.17 L107.63,310.37 L108.45,309.61 L109.31,308.87 L110.18,308.15 L111.08,307.46 L112.00,306.80 L112.94,306.18 L113.91,305.59 L114.90,305.05 L115.91,304.56 L116.95,304.13 L118.00,303.73 L119.06,303.38 L120.14,303.07 L121.22,302.78 L122.31,302.51 L123.40,302.25 L124.50,302.00 L125.61,301.75 L126.72,301.50 L127.83,301.26 L128.95,301.04 L130.08,300.86 L131.21,300.74Z" fill="none" stroke="#1b9c62" stroke-width="2.6" stroke-linejoin="round"/>
<circle cx="409.4" cy="367.8" r="31.7" fill="none" stroke="#111" stroke-width="1.2"/>
<circle cx="409.4" cy="367.8" r="63.4" fill="none" stroke="#111" stroke-width="1.2"/>
<line x1="409.4" y1="367.8" x2="409.4" y2="272.7" stroke="#111" stroke-width="1.3"/>
<line x1="409.4" y1="367.8" x2="457.0" y2="285.4" stroke="#111" stroke-width="1.3"/>
<line x1="409.4" y1="367.8" x2="491.8" y2="320.2" stroke="#111" stroke-width="1.3"/>
<line x1="409.4" y1="367.8" x2="504.5" y2="367.8" stroke="#777" stroke-width="1.3"/>
<line x1="409.4" y1="367.8" x2="491.8" y2="415.3" stroke="#111" stroke-width="1.3"/>
<line x1="409.4" y1="367.8" x2="457.0" y2="450.2" stroke="#111" stroke-width="1.3"/>
<line x1="409.4" y1="367.8" x2="409.4" y2="462.9" stroke="#111" stroke-width="1.3"/>
<line x1="409.4" y1="367.8" x2="361.9" y2="450.2" stroke="#111" stroke-width="1.3"/>
<line x1="409.4" y1="367.8" x2="327.1" y2="415.4" stroke="#111" stroke-width="1.3"/>
<line x1="409.4" y1="367.8" x2="314.4" y2="367.8" stroke="#777" stroke-width="1.3"/>
<line x1="409.4" y1="367.8" x2="327.1" y2="320.2" stroke="#111" stroke-width="1.3"/>
<line x1="409.4" y1="367.8" x2="361.9" y2="285.4" stroke="#111" stroke-width="1.3"/>
<line x1="417.7" y1="273.1" x2="417.4" y2="276.7" stroke="#111" stroke-width="1.3"/>
<line x1="426.0" y1="274.1" x2="425.3" y2="277.8" stroke="#111" stroke-width="1.3"/>
<line x1="434.1" y1="275.9" x2="433.1" y2="279.5" stroke="#111" stroke-width="1.3"/>
<line x1="442.0" y1="278.4" x2="440.7" y2="281.9" stroke="#111" stroke-width="1.3"/>
<line x1="449.6" y1="281.6" x2="448.1" y2="285.0" stroke="#111" stroke-width="1.3"/>
<line x1="464.0" y1="289.9" x2="461.9" y2="292.9" stroke="#111" stroke-width="1.3"/>
<line x1="470.6" y1="294.9" x2="468.2" y2="297.8" stroke="#111" stroke-width="1.3"/>
<line x1="476.7" y1="300.6" x2="474.1" y2="303.2" stroke="#111" stroke-width="1.3"/>
<line x1="482.3" y1="306.7" x2="479.5" y2="309.0" stroke="#111" stroke-width="1.3"/>
<line x1="487.4" y1="313.3" x2="484.3" y2="315.4" stroke="#111" stroke-width="1.3"/>
<line x1="495.6" y1="327.6" x2="492.3" y2="329.2" stroke="#111" stroke-width="1.3"/>
<line x1="498.8" y1="335.3" x2="495.3" y2="336.5" stroke="#111" stroke-width="1.3"/>
<line x1="501.3" y1="343.2" x2="497.7" y2="344.1" stroke="#111" stroke-width="1.3"/>
<line x1="503.1" y1="351.3" x2="499.5" y2="351.9" stroke="#111" stroke-width="1.3"/>
<line x1="504.2" y1="359.5" x2="500.5" y2="359.8" stroke="#111" stroke-width="1.3"/>
<line x1="504.2" y1="376.1" x2="500.5" y2="375.8" stroke="#111" stroke-width="1.3"/>
<line x1="503.1" y1="384.3" x2="499.5" y2="383.7" stroke="#111" stroke-width="1.3"/>
<line x1="501.3" y1="392.4" x2="497.7" y2="391.5" stroke="#111" stroke-width="1.3"/>
<line x1="498.8" y1="400.3" x2="495.3" y2="399.1" stroke="#111" stroke-width="1.3"/>
<line x1="495.6" y1="408.0" x2="492.3" y2="406.4" stroke="#111" stroke-width="1.3"/>
<line x1="487.4" y1="422.3" x2="484.3" y2="420.2" stroke="#111" stroke-width="1.3"/>
<line x1="482.3" y1="428.9" x2="479.5" y2="426.6" stroke="#111" stroke-width="1.3"/>
<line x1="476.7" y1="435.0" x2="474.1" y2="432.4" stroke="#111" stroke-width="1.3"/>
<line x1="470.6" y1="440.7" x2="468.2" y2="437.8" stroke="#111" stroke-width="1.3"/>
<line x1="464.0" y1="445.7" x2="461.9" y2="442.7" stroke="#111" stroke-width="1.3"/>
<line x1="449.6" y1="454.0" x2="448.1" y2="450.6" stroke="#111" stroke-width="1.3"/>
<line x1="442.0" y1="457.2" x2="440.7" y2="453.7" stroke="#111" stroke-width="1.3"/>
<line x1="434.1" y1="459.7" x2="433.1" y2="456.1" stroke="#111" stroke-width="1.3"/>
<line x1="426.0" y1="461.5" x2="425.3" y2="457.8" stroke="#111" stroke-width="1.3"/>
<line x1="417.7" y1="462.5" x2="417.4" y2="458.9" stroke="#111" stroke-width="1.3"/>
<line x1="401.2" y1="462.5" x2="401.5" y2="458.9" stroke="#111" stroke-width="1.3"/>
<line x1="392.9" y1="461.5" x2="393.6" y2="457.8" stroke="#111" stroke-width="1.3"/>
<line x1="384.8" y1="459.7" x2="385.8" y2="456.1" stroke="#111" stroke-width="1.3"/>
<line x1="376.9" y1="457.2" x2="378.2" y2="453.7" stroke="#111" stroke-width="1.3"/>
<line x1="369.3" y1="454.0" x2="370.8" y2="450.6" stroke="#111" stroke-width="1.3"/>
<line x1="354.9" y1="445.7" x2="357.0" y2="442.7" stroke="#111" stroke-width="1.3"/>
<line x1="348.3" y1="440.7" x2="350.7" y2="437.8" stroke="#111" stroke-width="1.3"/>
<line x1="342.2" y1="435.0" x2="344.8" y2="432.4" stroke="#111" stroke-width="1.3"/>
<line x1="336.6" y1="428.9" x2="339.4" y2="426.6" stroke="#111" stroke-width="1.3"/>
<line x1="331.5" y1="422.3" x2="334.6" y2="420.2" stroke="#111" stroke-width="1.3"/>
<line x1="323.3" y1="408.0" x2="326.6" y2="406.4" stroke="#111" stroke-width="1.3"/>
<line x1="320.1" y1="400.3" x2="323.6" y2="399.1" stroke="#111" stroke-width="1.3"/>
<line x1="317.6" y1="392.4" x2="321.2" y2="391.5" stroke="#111" stroke-width="1.3"/>
<line x1="315.8" y1="384.3" x2="319.4" y2="383.7" stroke="#111" stroke-width="1.3"/>
<line x1="314.7" y1="376.1" x2="318.4" y2="375.8" stroke="#111" stroke-width="1.3"/>
<line x1="314.7" y1="359.5" x2="318.4" y2="359.8" stroke="#111" stroke-width="1.3"/>
<line x1="315.8" y1="351.3" x2="319.4" y2="351.9" stroke="#111" stroke-width="1.3"/>
<line x1="317.6" y1="343.2" x2="321.2" y2="344.1" stroke="#111" stroke-width="1.3"/>
<line x1="320.1" y1="335.3" x2="323.6" y2="336.5" stroke="#111" stroke-width="1.3"/>
<line x1="323.3" y1="327.6" x2="326.6" y2="329.2" stroke="#111" stroke-width="1.3"/>
<line x1="331.5" y1="313.3" x2="334.6" y2="315.4" stroke="#111" stroke-width="1.3"/>
<line x1="336.6" y1="306.7" x2="339.4" y2="309.0" stroke="#111" stroke-width="1.3"/>
<line x1="342.2" y1="300.6" x2="344.8" y2="303.2" stroke="#111" stroke-width="1.3"/>
<line x1="348.3" y1="294.9" x2="350.7" y2="297.8" stroke="#111" stroke-width="1.3"/>
<line x1="354.9" y1="289.9" x2="357.0" y2="292.9" stroke="#111" stroke-width="1.3"/>
<line x1="369.3" y1="281.6" x2="370.8" y2="285.0" stroke="#111" stroke-width="1.3"/>
<line x1="376.9" y1="278.4" x2="378.2" y2="281.9" stroke="#111" stroke-width="1.3"/>
<line x1="384.8" y1="275.9" x2="385.8" y2="279.5" stroke="#111" stroke-width="1.3"/>
<line x1="392.9" y1="274.1" x2="393.6" y2="277.8" stroke="#111" stroke-width="1.3"/>
<line x1="401.2" y1="273.1" x2="401.5" y2="276.7" stroke="#111" stroke-width="1.3"/>
<circle cx="409.4" cy="367.8" r="95.1" fill="none" stroke="#111" stroke-width="1.6"/>
<text x="409.6" y="268.8" text-anchor="middle" font-size="12.6" style="stroke-width:0.6px">0</text>
<text x="461.6" y="282.3" text-anchor="middle" font-size="12.6" style="stroke-width:0.6px">30</text>
<text x="499.3" y="321.3" text-anchor="middle" font-size="12.6" style="stroke-width:0.6px">60</text>
<text x="514.0" y="373.2" text-anchor="middle" font-size="12.6" style="stroke-width:0.6px">90</text>
<text x="500.3" y="425.1" text-anchor="middle" font-size="12.6" style="stroke-width:0.6px">120</text>
<text x="461.2" y="463.8" text-anchor="middle" font-size="12.6" style="stroke-width:0.6px">150</text>
<text x="409.3" y="478.3" text-anchor="middle" font-size="12.6" style="stroke-width:0.6px">180</text>
<text x="355.5" y="465.9" text-anchor="middle" font-size="12.6" style="stroke-width:0.6px">210</text>
<text x="312.9" y="425.5" text-anchor="middle" font-size="12.6" style="stroke-width:0.6px">240</text>
<text x="301.0" y="373.1" text-anchor="middle" font-size="12.6" style="stroke-width:0.6px">270</text>
<text x="312.9" y="321.1" text-anchor="middle" font-size="12.6" style="stroke-width:0.6px">300</text>
<text x="350.8" y="282.3" text-anchor="middle" font-size="12.6" style="stroke-width:0.6px">330</text>
<text x="278" y="255" font-size="17.5" letter-spacing="0.3">(d)</text>
<text x="334.6" y="253.4" font-size="13.4" textLength="126.8" lengthAdjust="spacingAndGlyphs">τ=1 ps - x-z plane cut</text>
<text x="279.5" y="365" font-size="12.5" text-anchor="middle" textLength="53.5" lengthAdjust="spacingAndGlyphs" transform="rotate(-90 279.5 365)">θ degrees</text>
<path d="M408.7,126.6 C408.2,125.6 408.8,124.8 408.2,122.0 C407.6,119.2 406.5,113.3 405.1,109.5 C403.7,105.7 401.8,102.5 399.9,99.0 C398.0,95.5 396.1,91.7 393.6,88.6 C391.2,85.5 388.0,82.8 385.2,80.2 C382.4,77.6 379.7,74.7 376.9,72.9 C374.1,71.1 371.3,69.9 368.5,69.2 C365.7,68.5 362.3,68.6 360.2,68.6 C358.1,68.6 357.5,68.3 355.9,69.0 C354.3,69.7 351.9,71.3 350.5,73.0 C349.1,74.7 348.1,77.0 347.2,79.0 C346.3,81.0 345.6,82.7 345.0,85.1 C344.4,87.5 343.9,90.5 343.6,93.5 C343.3,96.5 343.2,99.6 343.0,103.0 C342.8,106.4 342.6,110.5 342.3,113.7 C342.0,116.9 341.7,118.9 341.0,122.0 C340.3,125.1 339.4,128.0 338.2,132.5 C337.0,137.0 334.9,144.0 334.0,149.2 C333.1,154.4 332.7,158.9 332.9,163.8 C333.1,168.7 333.6,174.3 335.0,178.5 C336.4,182.7 338.2,186.0 341.3,189.0 C344.4,192.0 349.6,194.9 353.8,196.3 C358.0,197.7 361.9,197.7 366.4,197.3 C370.9,197.0 376.2,196.5 381.0,194.2 C385.8,191.9 391.4,186.2 395.0,183.7 C398.6,181.2 399.9,181.3 402.3,179.3 C404.8,177.3 407.7,174.6 409.7,171.9 C411.7,169.2 413.1,166.5 414.1,163.1 C415.1,159.7 415.5,155.3 415.5,151.4 C415.5,147.5 414.8,143.6 414.1,139.7 C413.4,135.8 412.0,130.1 411.1,127.9 C410.2,125.7 409.2,127.6 408.7,126.6Z" fill="none" stroke="#2c2a80" stroke-width="2.5" stroke-linejoin="round" stroke-linecap="round"/>
<path d="M408.7,126.6 C408.6,126.1 409.5,126.1 409.4,121.8 C409.3,117.5 409.0,105.7 408.3,100.9 C407.6,96.1 406.2,96.2 405.1,92.8 C404.1,89.3 403.2,84.0 402.0,80.2 C400.8,76.4 399.6,72.5 397.8,69.7 C396.1,66.9 393.9,64.9 391.5,63.5 C389.1,62.1 386.2,61.2 383.1,61.4 C380.0,61.6 375.2,62.8 372.7,64.5 C370.2,66.2 369.4,69.0 368.0,71.5 C366.6,74.0 365.4,76.8 364.6,79.5 C363.8,82.2 363.5,85.1 363.2,88.0 C362.9,90.9 362.6,93.8 362.8,97.0 C363.0,100.2 363.5,103.9 364.3,107.4 C365.1,110.9 366.8,114.6 367.4,117.9 C368.0,121.2 368.2,124.6 368.0,127.0 C367.8,129.4 367.7,129.8 366.4,132.5 C365.1,135.2 362.2,138.7 360.1,142.9 C358.0,147.1 355.2,153.1 353.8,157.6 C352.4,162.1 351.9,165.6 351.7,170.1 C351.5,174.6 351.9,180.3 352.8,184.8 C353.7,189.3 355.1,193.5 357.0,197.3 C358.9,201.1 361.3,205.1 364.3,207.8 C367.3,210.5 371.4,212.6 374.8,213.5 C378.2,214.4 382.0,214.0 385.0,213.3 C388.0,212.6 390.3,211.2 392.7,209.4 C395.1,207.6 397.5,204.9 399.4,202.7 C401.3,200.5 403.0,198.2 404.2,196.0 C405.4,193.8 405.8,191.6 406.5,189.5 C407.2,187.4 407.6,186.0 408.2,183.7 C408.8,181.4 409.5,177.8 410.2,175.5 C410.9,173.2 411.7,170.8 412.6,169.8 C413.5,168.9 414.3,169.0 415.5,169.8 C416.7,170.7 418.4,173.3 419.9,174.9 C421.4,176.5 422.8,178.2 424.3,179.3 C425.8,180.4 427.4,181.5 428.7,181.5 C430.0,181.5 431.5,180.6 432.4,179.3 C433.3,178.0 433.9,175.5 434.2,173.5 C434.4,171.5 434.4,170.2 433.9,167.5 C433.3,164.8 432.2,160.7 430.9,157.3 C429.5,153.9 427.9,150.4 425.8,147.0 C423.7,143.6 420.9,139.8 418.5,136.7 C416.1,133.6 413.1,130.2 411.5,128.5 C409.9,126.8 408.8,129.8 408.7,126.6 C408.6,123.4 409.8,113.9 410.9,109.3 C412.0,104.7 413.7,101.6 415.1,98.8 C416.5,96.0 418.1,93.8 419.3,92.6 C420.5,91.4 421.5,91.3 422.4,91.5 C423.3,91.7 424.1,92.5 424.5,93.6 C424.9,94.6 425.0,96.0 424.5,97.8 C424.0,99.5 422.6,101.8 421.4,104.1 C420.2,106.4 418.6,109.0 417.2,111.4 C415.8,113.8 414.2,116.4 413.0,118.7 C411.8,121.0 410.6,123.7 409.9,125.0 C409.2,126.3 408.8,127.1 408.7,126.6Z" fill="none" stroke="#2aaade" stroke-width="2.5" stroke-linejoin="round" stroke-linecap="round"/>
<path d="M408.7,126.6 C409.3,125.0 413.0,121.6 415.1,118.7 C417.2,115.8 419.6,112.3 421.4,109.3 C423.1,106.3 424.6,104.0 425.6,100.9 C426.7,97.8 427.2,94.0 427.7,90.5 C428.2,87.0 428.7,83.5 428.6,80.0 C428.5,76.5 428.4,72.3 427.0,69.5 C425.6,66.7 422.9,64.6 420.2,63.1 C417.5,61.6 413.8,60.4 411.0,60.3 C408.2,60.2 405.9,61.5 403.3,62.4 C400.8,63.3 398.0,63.8 395.7,65.5 C393.4,67.2 391.1,69.8 389.4,72.5 C387.7,75.2 386.4,78.4 385.5,81.5 C384.6,84.6 384.2,87.9 384.0,91.0 C383.8,94.1 384.1,96.8 384.2,100.0 C384.3,103.2 383.9,107.0 384.5,110.0 C385.1,113.0 386.3,115.4 387.5,118.0 C388.7,120.6 391.4,123.3 391.5,125.8 C391.6,128.3 389.8,130.6 388.0,133.0 C386.2,135.4 383.0,138.0 381.0,140.5 C379.0,143.0 377.6,145.2 376.0,148.0 C374.4,150.8 372.4,153.7 371.5,157.0 C370.6,160.3 370.6,164.2 370.6,168.0 C370.6,171.8 370.7,175.6 371.6,180.1 C372.5,184.6 373.9,190.6 376.1,195.2 C378.3,199.8 381.9,204.5 385.0,207.5 C388.1,210.5 391.4,211.7 394.6,213.3 C397.8,214.9 401.0,216.3 404.2,217.1 C407.4,217.9 410.6,218.2 413.8,218.1 C417.0,217.9 420.8,217.6 423.5,216.2 C426.2,214.8 428.3,212.0 430.2,209.4 C432.1,206.8 433.9,203.7 435.0,200.8 C436.1,197.9 436.6,195.1 436.8,192.0 C437.1,188.9 436.7,184.8 436.5,182.0 C436.3,179.2 435.9,177.4 435.5,175.0 C435.1,172.6 434.7,170.4 433.9,167.5 C433.1,164.6 432.2,160.7 430.9,157.3 C429.5,153.9 427.9,150.4 425.8,147.0 C423.7,143.6 420.9,139.8 418.5,136.7 C416.1,133.6 413.1,130.2 411.5,128.5 C409.9,126.8 408.1,128.2 408.7,126.6Z" fill="none" stroke="#1b9c62" stroke-width="2.5" stroke-linejoin="round" stroke-linecap="round"/>
<path d="M412.0,66.6 C415.9,64.6 419.3,63.8 422.9,63.1 C426.5,62.4 430.0,62.3 433.6,62.4 C437.2,62.5 441.0,62.7 444.4,63.7 C447.8,64.7 451.1,66.4 453.8,68.5 C456.5,70.6 458.9,72.8 460.6,76.5 C462.3,80.2 463.1,86.4 463.8,90.5 C464.5,94.6 465.1,97.4 464.9,100.9 C464.7,104.4 463.4,108.4 462.8,111.4 C462.2,114.4 461.8,116.5 461.5,119.0 C461.2,121.5 461.2,123.6 461.3,126.5 C461.4,129.4 461.6,133.0 462.2,136.5 C462.8,140.0 463.9,143.8 464.6,147.5 C465.3,151.2 466.0,154.4 466.5,158.5 C467.0,162.6 467.9,167.4 467.5,172.0 C467.1,176.6 465.7,181.5 464.0,186.0 C462.3,190.5 460.0,195.3 457.1,199.0 C454.2,202.7 450.4,205.7 446.7,208.1 C442.9,210.5 438.5,212.3 434.6,213.5 C430.7,214.7 427.0,215.4 423.5,215.5 C420.0,215.6 417.0,214.7 413.8,213.8 C410.6,213.0 407.4,211.9 404.2,210.4 C401.0,208.9 397.7,206.8 394.6,204.6 C391.5,202.4 388.1,200.3 385.5,197.5 C382.9,194.7 380.7,191.4 379.0,188.0 C377.3,184.6 376.2,180.7 375.5,177.0 C374.8,173.3 374.6,169.5 374.5,166.0 C374.4,162.5 374.2,159.3 374.6,156.0 C375.0,152.7 375.6,149.2 377.0,146.0 C378.4,142.8 380.6,140.3 383.0,137.0 C385.4,133.7 390.9,129.5 391.5,126.0 C392.1,122.5 387.7,119.3 386.5,116.0 C385.3,112.7 384.4,109.5 384.5,106.0 C384.6,102.5 386.2,98.3 387.3,95.0 C388.4,91.7 389.1,89.3 391.1,86.0 C393.1,82.7 395.7,78.4 399.2,75.2 C402.7,72.0 408.1,68.6 412.0,66.6Z" fill="none" stroke="#cc2540" stroke-width="2.5" stroke-linejoin="round" stroke-linecap="round"/>
<path d="M410.8,72.5 C414.5,70.0 419.1,68.4 422.9,67.1 C426.7,65.8 430.0,64.9 433.6,64.4 C437.2,64.0 440.6,64.1 444.4,64.4 C448.2,64.7 452.7,65.3 456.5,66.4 C460.3,67.5 464.3,69.4 467.3,71.2 C470.3,73.0 472.3,74.5 474.5,77.0 C476.7,79.5 478.8,82.8 480.3,86.5 C481.8,90.2 482.8,94.5 483.5,99.0 C484.2,103.5 484.3,109.2 484.5,113.7 C484.7,118.2 484.7,121.3 484.5,126.2 C484.3,131.1 483.8,136.9 483.5,142.9 C483.2,148.9 482.9,156.9 482.6,162.0 C482.3,167.1 482.4,169.4 481.5,173.5 C480.6,177.6 479.3,182.9 477.5,186.5 C475.7,190.1 473.5,192.5 470.6,195.3 C467.8,198.1 464.0,200.9 460.4,203.3 C456.8,205.7 453.1,208.1 449.2,209.7 C445.3,211.3 441.0,212.5 436.8,213.1 C432.6,213.7 427.9,213.9 424.1,213.3 C420.3,212.7 417.1,210.7 413.8,209.4 C410.5,208.1 407.4,207.0 404.2,205.6 C401.0,204.2 397.8,203.0 394.6,200.8 C391.4,198.6 387.9,195.6 385.1,192.2 C382.3,188.8 379.5,184.6 377.6,180.1 C375.7,175.6 374.3,169.8 373.8,165.1 C373.3,160.4 374.0,155.7 374.6,152.0 C375.2,148.3 376.1,145.9 377.5,143.0 C378.9,140.1 380.7,137.4 383.1,134.6 C385.5,131.8 390.9,128.4 392.0,126.0 C393.1,123.6 390.1,122.7 389.4,120.0 C388.6,117.3 387.6,113.2 387.5,110.0 C387.4,106.8 387.9,104.6 389.0,101.0 C390.1,97.4 391.9,91.8 393.8,88.6 C395.7,85.4 397.8,84.6 400.6,81.9 C403.4,79.2 407.1,75.0 410.8,72.5Z" fill="none" stroke="#e9953f" stroke-width="2.5" stroke-linejoin="round" stroke-linecap="round"/>
<path d="M404.4,312.2 C401.3,310.6 398.1,310.4 395.0,309.4 C391.9,308.4 388.5,306.5 385.5,306.2 C382.5,305.9 379.7,306.6 376.8,307.4 C373.9,308.2 370.8,309.4 368.2,311.0 C365.6,312.6 363.2,314.4 361.0,316.8 C358.8,319.2 356.7,323.0 355.2,325.4 C353.7,327.8 353.2,327.8 352.1,331.0 C351.0,334.2 349.7,340.0 348.5,344.7 C347.3,349.4 345.9,355.1 344.8,359.3 C343.7,363.5 342.9,365.9 341.9,369.6 C340.9,373.3 339.8,377.2 338.9,381.3 C338.0,385.4 336.8,389.8 336.3,394.4 C335.8,398.9 335.6,403.9 336.1,408.6 C336.6,413.3 337.4,418.4 339.1,422.8 C340.8,427.2 343.3,431.3 346.2,434.9 C349.1,438.4 352.3,441.7 356.4,444.1 C360.5,446.5 365.9,447.9 370.6,449.1 C375.3,450.3 380.4,451.0 384.8,451.2 C389.2,451.4 392.7,450.9 396.9,450.2 C401.1,449.5 406.5,448.3 409.9,447.1 C413.3,445.9 414.6,445.1 417.2,443.1 C419.8,441.1 422.9,438.3 425.3,434.9 C427.7,431.5 430.0,426.9 431.4,422.8 C432.8,418.8 433.8,415.0 433.4,410.6 C433.0,406.2 431.2,400.7 429.3,396.4 C427.4,392.1 425.3,389.8 422.0,385.0 C418.7,380.2 409.6,372.3 409.5,367.8 C409.4,363.3 418.8,360.4 421.6,357.9 C424.4,355.4 424.8,354.8 426.1,352.6 C427.4,350.5 429.4,347.8 429.5,345.0 C429.6,342.2 428.4,338.8 427.0,335.8 C425.6,332.9 423.6,330.1 421.4,327.3 C419.2,324.5 416.6,321.3 413.8,318.8 C411.0,316.3 407.5,313.8 404.4,312.2Z" fill="none" stroke="#2c2a80" stroke-width="2.5" stroke-linejoin="round" stroke-linecap="round"/>
<path d="M396.0,309.0 C392.8,308.5 387.9,307.5 385.2,307.2 C382.5,306.9 382.0,306.8 379.7,307.4 C377.4,308.0 373.7,309.4 371.1,311.0 C368.5,312.6 366.1,314.4 363.9,316.8 C361.7,319.2 359.5,323.0 358.1,325.4 C356.8,327.8 356.8,327.8 355.8,331.0 C354.8,334.2 353.3,340.0 352.1,344.7 C350.9,349.4 349.6,355.1 348.5,359.3 C347.4,363.5 346.5,365.9 345.5,369.6 C344.5,373.3 343.3,376.8 342.6,381.3 C341.9,385.8 341.3,391.5 341.2,396.4 C341.1,401.3 341.5,406.2 342.2,410.6 C342.9,415.0 343.5,418.8 345.2,422.8 C346.9,426.9 349.4,431.2 352.3,434.9 C355.2,438.6 358.4,442.4 362.5,445.1 C366.6,447.8 372.0,449.7 376.7,451.2 C381.4,452.7 386.2,454.0 390.9,454.2 C395.6,454.4 401.3,453.1 405.0,452.4 C408.7,451.7 410.1,451.8 413.1,450.2 C416.2,448.6 420.4,446.0 423.3,443.1 C426.2,440.2 428.5,436.6 430.4,432.9 C432.2,429.2 433.6,424.8 434.4,420.7 C435.2,416.6 435.9,413.0 435.4,408.6 C434.9,404.2 433.6,398.8 431.4,394.4 C429.2,390.0 425.6,386.4 422.0,382.0 C418.4,377.6 410.2,370.8 409.5,367.8 C408.8,364.8 414.8,366.5 417.5,364.1 C420.2,361.8 423.6,356.9 425.8,353.7 C428.0,350.5 430.1,348.3 430.5,345.0 C430.9,341.7 429.4,337.3 428.0,333.9 C426.6,330.5 424.7,327.5 422.3,324.5 C419.9,321.5 416.8,318.4 413.8,316.0 C410.8,313.6 407.4,311.6 404.4,310.4 C401.4,309.2 399.2,309.5 396.0,309.0Z" fill="none" stroke="#2aaade" stroke-width="2.5" stroke-linejoin="round" stroke-linecap="round"/>
<path d="M395.0,307.0 C391.6,306.8 387.4,306.4 384.1,307.0 C380.8,307.6 378.0,308.7 375.4,310.3 C372.8,311.9 370.4,314.3 368.2,316.8 C366.0,319.3 363.8,323.2 362.4,325.4 C360.9,327.6 360.5,326.8 359.5,330.0 C358.5,333.2 357.2,339.8 356.5,344.7 C355.8,349.6 355.7,355.1 355.1,359.3 C354.5,363.5 353.9,366.2 352.9,369.6 C351.9,373.0 350.3,375.8 349.2,379.9 C348.1,384.0 346.9,389.6 346.4,394.4 C345.9,399.2 345.8,403.9 346.3,408.6 C346.8,413.3 347.6,418.4 349.3,422.8 C351.0,427.2 353.5,431.0 356.4,434.9 C359.3,438.8 362.4,443.1 366.5,446.1 C370.6,449.2 376.0,451.5 380.7,453.2 C385.4,454.9 390.8,455.8 394.9,456.2 C398.9,456.6 402.6,455.9 405.0,455.6 C407.4,455.3 406.4,455.3 409.1,454.2 C411.8,453.1 417.5,451.3 421.2,449.1 C424.9,446.9 428.7,444.0 431.4,441.0 C434.1,438.0 436.1,434.6 437.5,430.9 C438.9,427.2 439.3,422.8 439.5,418.7 C439.7,414.6 439.5,410.9 438.5,406.5 C437.5,402.1 435.6,396.7 433.4,392.3 C431.2,387.9 428.7,383.9 425.3,380.2 C421.9,376.5 415.7,372.1 413.1,370.0 C410.5,367.9 409.9,368.4 409.5,367.8 C409.1,367.2 409.2,367.5 411.0,366.2 C412.8,364.9 417.2,362.0 420.0,360.2 C422.8,358.4 425.6,357.4 427.6,355.6 C429.6,353.8 431.2,351.9 432.1,349.6 C433.0,347.3 433.1,345.1 432.7,342.0 C432.3,338.9 431.4,334.7 429.8,331.1 C428.2,327.6 425.9,323.9 423.2,320.7 C420.5,317.5 416.9,314.2 413.8,312.2 C410.7,310.2 407.5,309.4 404.4,308.5 C401.3,307.6 398.4,307.2 395.0,307.0Z" fill="none" stroke="#1b9c62" stroke-width="2.5" stroke-linejoin="round" stroke-linecap="round"/>
<path d="M412.0,305.6 C415.4,306.0 416.9,306.4 420.0,307.5 C423.1,308.6 427.3,310.0 430.6,312.0 C433.9,314.0 437.1,316.8 439.6,319.6 C442.1,322.4 444.1,325.4 445.6,328.6 C447.1,331.9 448.0,335.9 448.6,339.1 C449.2,342.3 449.5,344.6 449.4,347.6 C449.3,350.6 448.8,354.2 447.9,357.1 C447.0,360.0 445.2,362.2 444.1,364.7 C443.0,367.2 441.4,370.0 441.1,371.9 C440.8,373.8 441.4,373.4 442.5,376.1 C443.6,378.8 446.1,383.9 447.6,388.3 C449.1,392.7 450.9,397.8 451.7,402.5 C452.5,407.2 452.9,412.3 452.7,416.7 C452.5,421.1 451.8,424.8 450.6,428.9 C449.4,432.9 447.8,437.3 445.6,441.0 C443.4,444.7 440.9,448.5 437.5,451.2 C434.1,453.9 429.4,455.7 425.3,457.2 C421.2,458.7 416.5,459.6 413.1,460.3 C409.7,461.0 407.4,461.3 405.0,461.3 C402.6,461.3 402.4,461.3 399.0,460.3 C395.6,459.3 389.5,457.4 384.8,455.2 C380.1,453.0 374.7,450.5 370.6,447.1 C366.5,443.7 363.1,438.9 360.4,434.9 C357.7,430.8 355.8,427.2 354.3,422.8 C352.8,418.4 351.8,412.4 351.3,408.6 C350.8,404.8 351.2,402.4 351.4,400.0 C351.6,397.6 351.6,397.5 352.3,394.4 C353.0,391.3 354.4,385.4 355.8,381.3 C357.2,377.2 359.7,373.8 360.9,369.6 C362.1,365.5 362.9,361.0 363.1,356.4 C363.4,351.8 362.1,346.1 362.4,341.7 C362.6,337.3 363.6,332.9 364.6,330.0 C365.6,327.1 366.6,326.4 368.2,324.0 C369.8,321.6 371.8,317.7 374.0,315.3 C376.2,312.9 378.6,310.9 381.2,309.5 C383.8,308.1 386.7,307.4 389.8,306.7 C392.9,306.0 396.2,305.4 399.9,305.2 C403.6,305.0 408.6,305.2 412.0,305.6Z" fill="none" stroke="#cc2540" stroke-width="2.5" stroke-linejoin="round" stroke-linecap="round"/>
<path d="M405.0,305.2 C409.6,305.0 415.0,305.3 420.0,306.0 C425.0,306.7 430.6,307.9 435.1,309.5 C439.6,311.1 443.6,313.2 447.1,315.5 C450.6,317.8 453.6,320.3 456.1,323.1 C458.6,325.9 460.6,328.9 462.1,332.1 C463.6,335.3 464.4,338.7 465.2,342.1 C466.0,345.5 466.6,349.1 466.7,352.6 C466.8,356.1 466.2,360.0 465.9,363.2 C465.6,366.4 465.2,368.4 465.0,372.0 C464.8,375.6 464.8,380.6 464.8,385.0 C464.8,389.4 465.0,393.4 464.8,398.4 C464.6,403.3 464.5,409.6 463.8,414.7 C463.1,419.8 462.3,424.5 460.8,428.9 C459.3,433.3 457.2,437.3 454.7,441.0 C452.2,444.7 449.2,448.3 445.6,451.2 C442.1,454.1 437.8,456.5 433.4,458.3 C429.0,460.1 423.9,461.4 419.2,462.1 C414.5,462.8 409.6,463.0 405.0,462.6 C400.4,462.2 395.9,461.2 391.5,459.5 C387.1,457.8 381.8,454.6 378.5,452.5 C375.2,450.4 374.5,450.0 371.6,447.1 C368.8,444.2 364.1,438.9 361.4,434.9 C358.7,430.8 356.8,427.2 355.4,422.8 C354.0,418.4 353.5,412.4 353.3,408.6 C353.1,404.8 353.4,404.6 354.3,400.0 C355.2,395.4 357.1,386.4 358.7,381.3 C360.3,376.2 362.7,373.8 363.9,369.6 C365.1,365.5 366.0,361.0 366.1,356.4 C366.2,351.8 364.2,346.1 364.6,341.7 C365.0,337.3 367.3,332.9 368.3,330.0 C369.3,327.1 369.0,326.4 370.4,324.0 C371.8,321.6 374.5,317.6 376.8,315.3 C379.1,313.0 381.5,311.6 384.1,310.3 C386.8,309.0 389.2,308.2 392.7,307.4 C396.2,306.5 400.4,305.4 405.0,305.2Z" fill="none" stroke="#e9953f" stroke-width="2.5" stroke-linejoin="round" stroke-linecap="round"/>
<text x="433.8" y="118.5" font-size="9">-10dB</text>
<text x="466.6" y="111.3" font-size="9">-5dB</text>
<text x="132.6" y="407.6" font-size="9">-10dB</text>
<text x="135.7" y="439" font-size="9">-5dB</text>
<text x="435" y="349" font-size="9">-10dB</text>
<text x="457" y="324.5" font-size="9">-5dB</text>
</svg>
</body></html>
